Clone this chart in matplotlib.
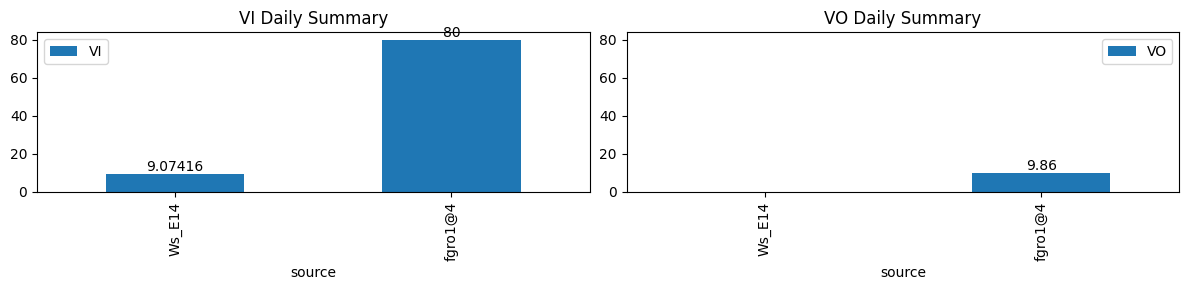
#!/usr/bin/env python3
"""
Daily VI / VO summary per source
"""

import numpy as np
import pandas as pd
import matplotlib
matplotlib.use("Agg")
import matplotlib.pyplot as plt

sources = ["Ws_E14", "fgro1@4"]
vi_values = [9.07416, 80]
vo_values = [np.nan, 9.86]

df = pd.DataFrame({"source": sources, "VI": vi_values, "VO": vo_values}).set_index("source")

fig, axes = plt.subplots(1, 2, figsize=(11.89, 2.9), dpi=100, sharey=True)

for ax, col in zip(axes, ["VI", "VO"]):
    df[[col]].plot(kind="bar", ax=ax)
    ax.set_title(f"{col} Daily Summary")
    # skip labels for missing values
    labels = ["" if pd.isna(v) else f"{v:g}" for v in df[col]]
    ax.bar_label(ax.containers[0], labels=labels)
    ax.yaxis.set_tick_params(labelleft=True)

plt.tight_layout(pad=0.7)
plt.savefig("out.png", dpi=100)
